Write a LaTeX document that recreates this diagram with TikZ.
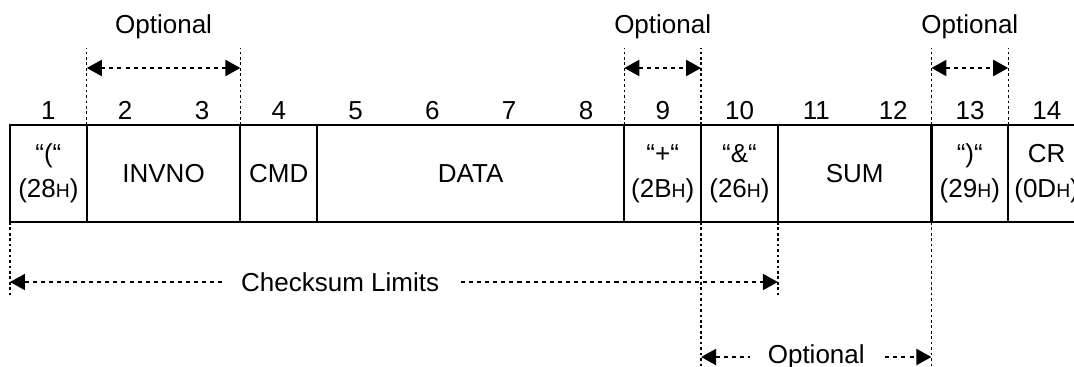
\documentclass[tikz,border=0pt]{standalone}
\usepackage{fontspec}
\setmainfont{Liberation Sans}
\usetikzlibrary{arrows.meta,positioning,calc}

\newcommand{\hexnum}[1]{(#1{\fontsize{11}{13}\selectfont H})}

\begin{document}
\begin{tikzpicture}[x=0.02cm, y=-0.02cm,
  font=\fontsize{14.8}{20}\selectfont,
  byte/.style={draw, line width=1.3pt, inner sep=0pt, outer sep=0pt,
    minimum height=1.94cm, minimum width=#1*1.536cm, align=center},
  byte/.default=1,
  vdots/.style={line width=0.8pt, dash pattern=on 1.5pt off 1.6pt},
  span/.style={line width=1.2pt, dash pattern=on 2.3pt off 2.3pt,
    {Triangle[length=0.3cm,width=0.32cm]}-{Triangle[length=0.3cm,width=0.32cm]}},
  gap/.style={fill=white, inner xsep=0.36cm, inner ysep=1pt}]
  \useasboundingbox (0,0) rectangle (1074,366);
  % Frame cells
  \node[byte, anchor=north west] (c1) at (10,125) {“(“\\\hexnum{28}};
  \node[byte=2, right=0pt of c1] (c2) {INVNO};
  \node[byte, right=0pt of c2] (c4) {CMD};
  \node[byte=4, right=0pt of c4] (c5) {DATA};
  \node[byte, right=0pt of c5] (c9) {“+“\\\hexnum{2B}};
  \node[byte, right=0pt of c9] (c10) {“\&“\\\hexnum{26}};
  \node[byte=2, right=0pt of c10] (c11) {SUM};
  \node[byte, right=0pt of c11] (c13) {“)“\\\hexnum{29}};
  \node[byte, right=0pt of c13] (c14) {CR\\\hexnum{0D}};
  % Byte numbers
  \foreach \i in {1,...,14}
    \node[anchor=base] (n\i) at ({10+(\i-0.5)*76.8},119) {\i};
  % Levels for the marks
  \coordinate (ytop) at (0,48);
  \coordinate (yarr) at (0,68);
  \coordinate (ylab) at (0,27);
  \coordinate (yck) at (0,282);
  \coordinate (ycke) at (0,297);
  \coordinate (yopt) at (0,357);
  \coordinate (ybot) at (0,366);
  % Optional fields above
  \foreach \c in {c2,c9,c13}{
    \draw[vdots] (\c.north west) -- (\c.north west |- ytop);
    \draw[vdots] (\c.north east) -- (\c.north east |- ytop);
    \draw[span] (\c.north west |- yarr) -- (\c.north east |- yarr);
    \node (o\c) at (\c.north |- ylab) {Optional};
  }
  % Checksum limits
  \draw[vdots] (c1.south west) -- (c1.south west |- ycke);
  \draw[vdots] (c10.south east) -- (c10.south east |- ycke);
  \draw[span] (c1.south west |- yck) -- (c10.south east |- yck)
    node[gap, pos=0.43] (ck) {Checksum Limits};
  % Optional checksum
  \draw[vdots] (c10.south west) -- (c10.south west |- ybot);
  \draw[vdots] (c13.south west) -- (c13.south west |- ybot);
  \draw[span] (c10.south west |- yopt) -- (c13.south west |- yopt)
    node[gap, midway] (ob) {Optional};
\end{tikzpicture}
\end{document}
